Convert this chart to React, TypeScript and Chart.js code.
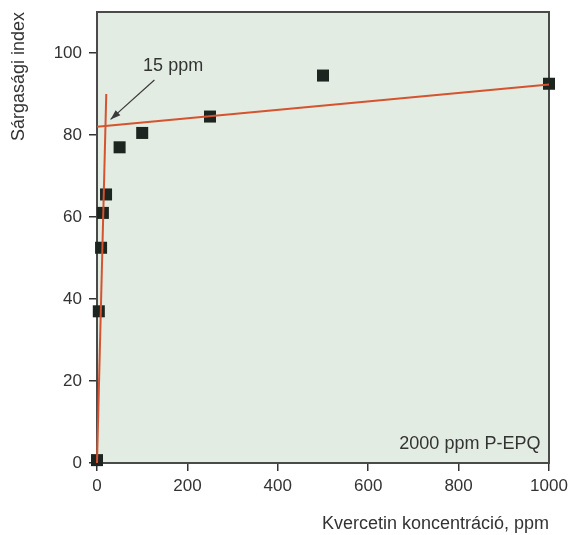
import React, { useEffect, useRef } from "react";
import { Chart, registerables } from "chart.js";

Chart.register(...registerables);

const concentration = [0, 4, 9, 13, 20, 50, 100, 250, 500, 1000];
const yellownessIndex = [0.7, 37, 52.5, 61, 65.5, 77, 80.5, 84.5, 94.5, 92.5];

const steepFitX = [0, 20.5];
const steepFitY = [0, 90];
const flatFitX = [0, 1000];
const flatFitY = [82, 92.3];

const xTicks = [0, 200, 400, 600, 800, 1000];
const yTicks = [0, 20, 40, 60, 80, 100];

const xTitle = "Kvercetin koncentráció, ppm";
const yTitle = "Sárgasági index";
const arrowLabel = "15 ppm";
const cornerLabel = "2000 ppm P-EPQ";

const FONT = "'Liberation Sans', Arial, Helvetica, sans-serif";
const TEXT = "#333333";

const decorPlugin = {
  id: "decor",
  beforeDraw(chart: any) {
    const { ctx, chartArea: a } = chart;
    ctx.save();
    ctx.fillStyle = "#e2ece2";
    ctx.fillRect(a.left, a.top, a.right - a.left, a.bottom - a.top);
    ctx.restore();
  },
  beforeDatasetsDraw(chart: any) {
    const { ctx, chartArea: a } = chart;
    ctx.save();
    ctx.strokeStyle = "#4a4a4a";
    ctx.lineWidth = 2;
    ctx.strokeRect(a.left, a.top, a.right - a.left, a.bottom - a.top);
    ctx.restore();
  },
  afterDatasetsDraw(chart: any) {
    const { ctx, scales } = chart;
    const x = scales.x;
    const y = scales.y;
    ctx.save();
    const x0 = x.getPixelForValue(127);
    const y0 = y.getPixelForValue(93.4);
    const x1 = x.getPixelForValue(30);
    const y1 = y.getPixelForValue(83.8);
    ctx.strokeStyle = "#3a3a3a";
    ctx.fillStyle = "#3a3a3a";
    ctx.lineWidth = 1.2;
    ctx.beginPath();
    ctx.moveTo(x0, y0);
    ctx.lineTo(x1, y1);
    ctx.stroke();
    const ang = Math.atan2(y1 - y0, x1 - x0);
    const L = 10;
    const W = 3.5;
    ctx.beginPath();
    ctx.moveTo(x1, y1);
    ctx.lineTo(
      x1 - L * Math.cos(ang) + W * Math.sin(ang),
      y1 - L * Math.sin(ang) - W * Math.cos(ang)
    );
    ctx.lineTo(
      x1 - L * Math.cos(ang) - W * Math.sin(ang),
      y1 - L * Math.sin(ang) + W * Math.cos(ang)
    );
    ctx.closePath();
    ctx.fill();

    ctx.fillStyle = TEXT;
    ctx.font = `18px ${FONT}`;
    ctx.textBaseline = "middle";
    ctx.textAlign = "left";
    ctx.fillText(arrowLabel, x.getPixelForValue(102), y.getPixelForValue(96.8));
    ctx.textAlign = "right";
    ctx.fillText(cornerLabel, x.getPixelForValue(981), y.getPixelForValue(4.6));
    ctx.restore();
  },
};

export default function App() {
  const ref = useRef<HTMLCanvasElement | null>(null);

  useEffect(() => {
    document.body.style.margin = "0";
    const canvas = ref.current;
    if (!canvas) return;
    const points = concentration.map((c, i) => ({ x: c, y: yellownessIndex[i] }));
    const steep = steepFitX.map((c, i) => ({ x: c, y: steepFitY[i] }));
    const flat = flatFitX.map((c, i) => ({ x: c, y: flatFitY[i] }));

    const chart = new Chart(canvas, {
      type: "scatter",
      data: {
        datasets: [
          {
            label: "Mért értékek",
            data: points,
            pointStyle: "rect",
            pointRadius: 8.5,
            pointBackgroundColor: "#1c2520",
            pointBorderColor: "#1c2520",
            pointBorderWidth: 0,
            clip: false,
            order: 2,
          },
          {
            label: "Illesztés 1",
            data: steep,
            showLine: true,
            borderColor: "#d5532f",
            borderWidth: 2,
            pointRadius: 0,
            clip: false,
            order: 1,
          },
          {
            label: "Illesztés 2",
            data: flat,
            showLine: true,
            borderColor: "#d5532f",
            borderWidth: 2,
            pointRadius: 0,
            clip: false,
            order: 1,
          },
        ],
      },
      options: {
        responsive: false,
        animation: false,
        devicePixelRatio: 1,
        layout: { padding: { top: 12, right: 22, bottom: 0, left: 0 } },
        plugins: {
          legend: { display: false },
          tooltip: { enabled: false },
        },
        scales: {
          x: {
            type: "linear",
            min: 0,
            max: 1000,
            afterBuildTicks: (s: any) => {
              s.ticks = xTicks.map((v) => ({ value: v }));
            },
            afterFit: (s: any) => {
              s.height = 72;
              s.paddingLeft = 0;
              s.paddingRight = 0;
            },
            ticks: {
              font: { family: FONT, size: 17 },
              color: TEXT,
              padding: 5,
              maxRotation: 0,
              callback: (v: any) => String(v),
            },
            grid: {
              drawOnChartArea: false,
              drawTicks: true,
              tickLength: 8,
              color: "#333333",
              lineWidth: 1.5,
            },
            border: { display: false },
            title: {
              display: true,
              text: xTitle,
              align: "end",
              color: TEXT,
              font: { family: FONT, size: 18 },
              padding: { top: 0, bottom: 0 },
            },
          },
          y: {
            type: "linear",
            min: 0,
            max: 110,
            afterBuildTicks: (s: any) => {
              s.ticks = yTicks.map((v) => ({ value: v }));
            },
            afterFit: (s: any) => {
              s.width = 97;
              s.paddingTop = 0;
              s.paddingBottom = 0;
            },
            ticks: {
              font: { family: FONT, size: 17 },
              color: TEXT,
              padding: 7,
              callback: (v: any) => String(v),
            },
            grid: {
              drawOnChartArea: false,
              drawTicks: true,
              tickLength: 8,
              color: "#333333",
              lineWidth: 1.5,
            },
            border: { display: false },
            title: {
              display: true,
              text: yTitle,
              align: "end",
              color: TEXT,
              font: { family: FONT, size: 18 },
              padding: { top: 8, bottom: 0 },
            },
          },
        },
      },
      plugins: [decorPlugin],
    } as any);

    return () => chart.destroy();
  }, []);

  return (
    <div style={{ width: 571, height: 535 }}>
      <canvas ref={ref} width={571} height={535} style={{ display: "block" }} />
    </div>
  );
}
